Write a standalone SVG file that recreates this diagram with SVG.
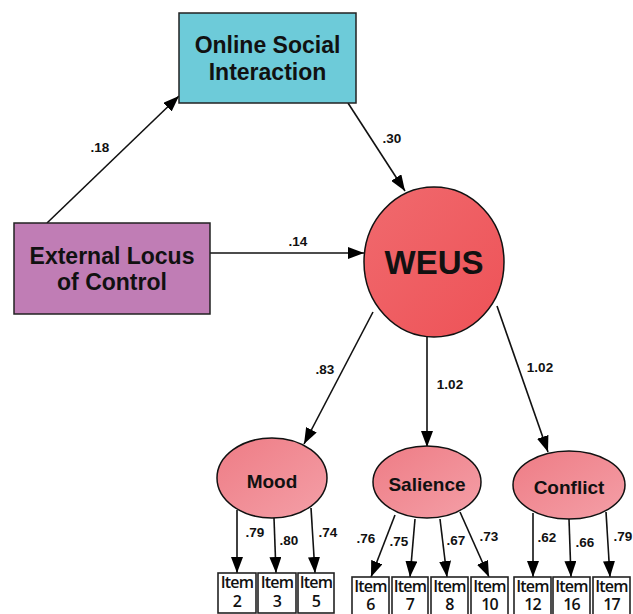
<svg xmlns="http://www.w3.org/2000/svg" width="633" height="614" viewBox="0 0 633 614">
  <defs>
    <marker id="arrow" viewBox="0 0 16 12" refX="16" refY="6" markerWidth="16" markerHeight="12" markerUnits="userSpaceOnUse" orient="auto">
      <path d="M0,0 L16,6 L0,12 Z" fill="#000"/>
    </marker>
    <linearGradient id="weusFill" x1="0" y1="0" x2="1" y2="1">
      <stop offset="0" stop-color="#f06a6e"/>
      <stop offset="1" stop-color="#ee5257"/>
    </linearGradient>
    <linearGradient id="factorFill" x1="0" y1="0" x2="1" y2="1">
      <stop offset="0" stop-color="#ee7c85"/>
      <stop offset="1" stop-color="#f49fa7"/>
    </linearGradient>
  </defs>
  <style>
    .box { stroke: #222; stroke-width: 1.5; }
    .latent { stroke: #111; stroke-width: 1.5; }
    .item { fill: #fff; stroke: #222; stroke-width: 1.6; }
    .title { font-family: "Liberation Sans", Arial, sans-serif; font-weight: bold; font-size: 23px; fill: #111; text-anchor: middle; }
    .factor { font-family: "Liberation Sans", Arial, sans-serif; font-weight: bold; font-size: 19px; fill: #111; text-anchor: middle; }
    .itemtxt { font-family: "Open Sans", "DejaVu Sans", sans-serif; font-weight: 600; font-size: 16px; fill: #111; text-anchor: middle; letter-spacing: -0.8px; }
    .w { font-family: "Liberation Sans", Arial, sans-serif; font-weight: bold; font-size: 13.5px; fill: #111; text-anchor: middle; }
    .edge { stroke: #111; stroke-width: 1.6; fill: none; marker-end: url(#arrow); }
  </style>
  <rect width="633" height="614" fill="#fff"/>

  <!-- connectors and their weights -->
  <g id="connectors">
    <line class="edge" x1="47" y1="223" x2="179" y2="96"/>
    <line class="edge" x1="348" y1="103" x2="405" y2="191"/>
    <line class="edge" x1="210" y1="253" x2="364" y2="253"/>
    <line class="edge" x1="373" y1="312" x2="304" y2="444"/>
    <line class="edge" x1="427" y1="337" x2="427" y2="447"/>
    <line class="edge" x1="497" y1="306" x2="548" y2="452"/>

    <line class="edge" x1="237" y1="510" x2="237" y2="573"/>
    <line class="edge" x1="274" y1="518" x2="276" y2="573"/>
    <line class="edge" x1="311" y1="508" x2="315" y2="573"/>

    <line class="edge" x1="395" y1="515" x2="371" y2="577"/>
    <line class="edge" x1="415" y1="519" x2="410" y2="577"/>
    <line class="edge" x1="440" y1="519" x2="447" y2="577"/>
    <line class="edge" x1="460" y1="512" x2="489" y2="577"/>

    <line class="edge" x1="533" y1="513" x2="533" y2="577"/>
    <line class="edge" x1="569" y1="519" x2="571" y2="577"/>
    <line class="edge" x1="606" y1="512" x2="610" y2="577"/>

    <text class="w" x="100" y="152">.18</text>
    <text class="w" x="392" y="143">.30</text>
    <text class="w" x="298" y="246">.14</text>
    <text class="w" x="325" y="374">.83</text>
    <text class="w" x="450" y="389">1.02</text>
    <text class="w" x="540" y="372">1.02</text>

    <text class="w" x="255" y="537">.79</text>
    <text class="w" x="289" y="545">.80</text>
    <text class="w" x="328" y="537">.74</text>

    <text class="w" x="366" y="543">.76</text>
    <text class="w" x="399" y="546">.75</text>
    <text class="w" x="456" y="545">.67</text>
    <text class="w" x="489" y="541">.73</text>

    <text class="w" x="547" y="542">.62</text>
    <text class="w" x="585" y="547">.66</text>
    <text class="w" x="623" y="541">.79</text>
  </g>

  <g id="online-social-interaction">
    <rect class="box" x="179" y="13" width="177" height="90" fill="#6dcbd9"/>
    <text class="title" x="267.5" y="53">Online Social</text>
    <text class="title" x="267.5" y="80">Interaction</text>
  </g>

  <g id="external-locus-of-control">
    <rect class="box" x="14" y="223" width="196" height="91" fill="#c07db5"/>
    <text class="title" x="112" y="264">External Locus</text>
    <text class="title" x="112" y="290">of Control</text>
  </g>

  <g id="weus">
    <ellipse class="latent" cx="434" cy="262" rx="70" ry="75" fill="url(#weusFill)"/>
    <text x="434" y="274" font-family="Liberation Sans, Arial, sans-serif" font-weight="bold" font-size="33" fill="#111" text-anchor="middle">WEUS</text>
  </g>

  <g id="mood">
    <ellipse class="latent" cx="272" cy="478" rx="55" ry="40" fill="url(#factorFill)"/>
    <text class="factor" x="272" y="488">Mood</text>
  </g>

  <g id="salience">
    <ellipse class="latent" cx="427" cy="482" rx="54" ry="36" fill="url(#factorFill)"/>
    <text class="factor" x="427" y="491">Salience</text>
  </g>

  <g id="conflict">
    <ellipse class="latent" cx="569" cy="485" rx="56" ry="34" fill="url(#factorFill)"/>
    <text class="factor" x="569" y="494">Conflict</text>
  </g>

  <g id="item-2"><rect class="item" x="218" y="573" width="38" height="40"/><text class="itemtxt" x="237" y="588">Item</text><text class="itemtxt" x="237" y="607">2</text></g>
  <g id="item-3"><rect class="item" x="258" y="573" width="38" height="40"/><text class="itemtxt" x="277" y="588">Item</text><text class="itemtxt" x="277" y="607">3</text></g>
  <g id="item-5"><rect class="item" x="298" y="573" width="36" height="40"/><text class="itemtxt" x="316" y="588">Item</text><text class="itemtxt" x="316" y="607">5</text></g>

  <g id="item-6"><rect class="item" x="352" y="577" width="37" height="38"/><text class="itemtxt" x="370.5" y="592">Item</text><text class="itemtxt" x="370.5" y="610">6</text></g>
  <g id="item-7"><rect class="item" x="392" y="577" width="36" height="38"/><text class="itemtxt" x="410" y="592">Item</text><text class="itemtxt" x="410" y="610">7</text></g>
  <g id="item-8"><rect class="item" x="431" y="577" width="37" height="38"/><text class="itemtxt" x="449.5" y="592">Item</text><text class="itemtxt" x="449.5" y="610">8</text></g>
  <g id="item-10"><rect class="item" x="471" y="577" width="37" height="38"/><text class="itemtxt" x="489.5" y="592">Item</text><text class="itemtxt" x="489.5" y="610">10</text></g>

  <g id="item-12"><rect class="item" x="514" y="577" width="37" height="38"/><text class="itemtxt" x="532.5" y="592">Item</text><text class="itemtxt" x="532.5" y="610">12</text></g>
  <g id="item-16"><rect class="item" x="553" y="577" width="37" height="38"/><text class="itemtxt" x="571.5" y="592">Item</text><text class="itemtxt" x="571.5" y="610">16</text></g>
  <g id="item-17"><rect class="item" x="593" y="577" width="37" height="38"/><text class="itemtxt" x="611.5" y="592">Item</text><text class="itemtxt" x="611.5" y="610">17</text></g>
</svg>
